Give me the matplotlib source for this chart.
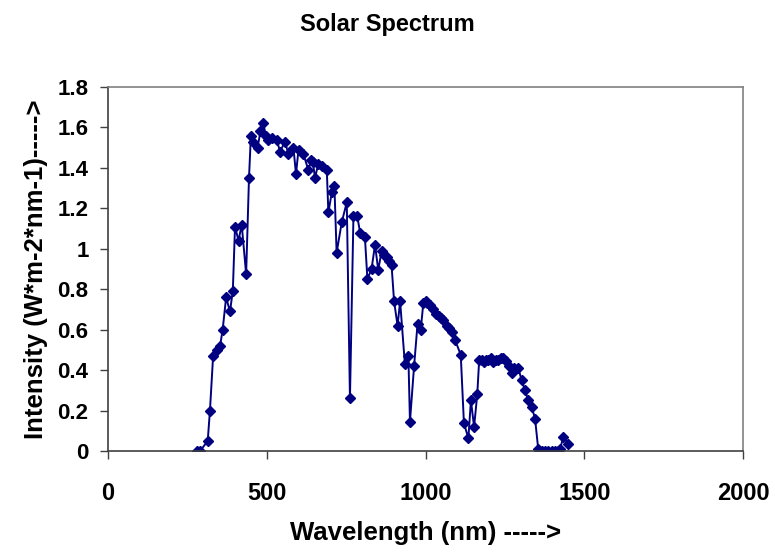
import matplotlib.pyplot as plt

# wavelength (nm) and measured intensity (W m^-2 nm^-1)
wavelength = [280, 290, 314, 321, 331, 342, 353, 361, 372, 384, 393, 400, 411, 421,
              435, 444, 450, 458, 471, 480, 489, 497, 505, 515, 531, 542, 557, 568,
              584, 592, 600, 615, 631, 640, 645, 652, 662, 673, 689, 694, 705, 713,
              720, 736, 752, 762, 773, 785, 794, 809, 817, 830, 841, 851, 862, 870,
              878, 886, 893, 901, 912, 920, 935, 946, 951, 964, 975, 985, 993, 1000,
              1006, 1015, 1025, 1033, 1041, 1048, 1056, 1067, 1075, 1082, 1093, 1111,
              1121, 1135, 1143, 1153, 1163, 1169, 1177, 1184, 1191, 1198, 1206, 1214,
              1222, 1229, 1237, 1245, 1255, 1263, 1271, 1280, 1292, 1303, 1313, 1324,
              1334, 1345, 1355, 1366, 1376, 1386, 1397, 1408, 1418, 1424, 1434, 1450]
intensity = [0.0, 0.0, 0.05, 0.20, 0.47, 0.50, 0.52, 0.60, 0.76, 0.69, 0.79, 1.11, 1.04, 1.12,
             0.875, 1.35, 1.56, 1.53, 1.50, 1.58, 1.62, 1.56, 1.54, 1.55, 1.54, 1.48, 1.53, 1.47,
             1.50, 1.37, 1.49, 1.47, 1.39, 1.44, 1.43, 1.35, 1.42, 1.41, 1.39, 1.18, 1.28, 1.31,
             0.98, 1.13, 1.23, 0.26, 1.16, 1.16, 1.08, 1.06, 0.85, 0.90, 1.02, 0.895, 0.99, 0.97,
             0.96, 0.94, 0.92, 0.74, 0.62, 0.74, 0.43, 0.47, 0.145, 0.42, 0.63, 0.60, 0.73, 0.74,
             0.73, 0.72, 0.70, 0.68, 0.67, 0.66, 0.65, 0.62, 0.61, 0.59, 0.55, 0.475,
             0.137, 0.063, 0.25, 0.12, 0.28, 0.45, 0.45, 0.44, 0.45, 0.45, 0.46, 0.44,
             0.45, 0.45, 0.46, 0.46, 0.445, 0.42, 0.385, 0.41, 0.41, 0.35, 0.30, 0.25,
             0.22, 0.16, 0.01, 0.0, 0.0, 0.0, 0.0, 0.0, 0.0, 0.01, 0.07, 0.035]

xticks = [0, 500, 1000, 1500, 2000]
yticks = [0, 0.2, 0.4, 0.6, 0.8, 1, 1.2, 1.4, 1.6, 1.8]
ytick_labels = ["0", "0.2", "0.4", "0.6", "0.8", "1", "1.2", "1.4", "1.6", "1.8"]

plt.rcParams["font.family"] = ["Liberation Sans", "DejaVu Sans"]
plt.rcParams["font.weight"] = "bold"

fig = plt.figure(figsize=(7.75, 5.53), dpi=100)
ax = fig.add_axes([0.1394, 0.1844, 0.8193, 0.6583])

ax.plot(wavelength, intensity, color="#000080", lw=1.4, marker="D",
        markersize=5.5, markerfacecolor="#000080", markeredgecolor="#000080")

ax.set_xlim(0, 2000)
ax.set_ylim(0, 1.8)
ax.set_xticks(xticks)
ax.set_yticks(yticks)
ax.set_yticklabels(ytick_labels)

for s in ax.spines.values():
    s.set_color("#808080")
    s.set_linewidth(1.2)
ax.spines["bottom"].set_color("#404040")
ax.spines["left"].set_color("#404040")

ax.tick_params(axis="x", direction="out", length=6, width=1, color="#404040",
               labelsize=17, pad=16)
ax.tick_params(axis="y", direction="out", length=6, width=1, color="#404040",
               labelsize=16, pad=8)
for lab in ax.get_xticklabels() + ax.get_yticklabels():
    lab.set_fontweight("bold")

ax.set_xlabel("Wavelength (nm) ----->", fontsize=18.5, fontweight="bold", labelpad=12)
ax.set_ylabel("Intensity (W*m-2*nm-1)----->", fontsize=18.5, fontweight="bold", labelpad=7)
fig.text(0.5, 0.955, "Solar Spectrum", ha="center", va="center",
         fontsize=17, fontweight="bold")

fig.savefig("out.png", dpi=100)
